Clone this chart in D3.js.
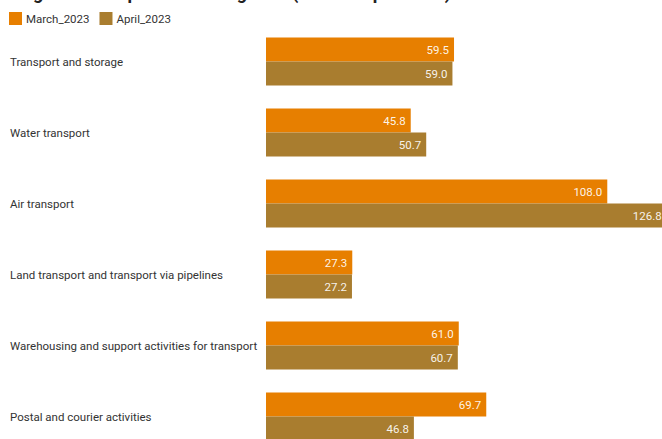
<!DOCTYPE html>
<html>
<head>
<meta charset="utf-8">
<script src="https://cdn.jsdelivr.net/npm/d3@7"></script>
<style>
  html, body { margin: 0; padding: 0; background: #fff; overflow: hidden; }
  svg { display: block; font-family: Roboto, "Noto Sans", sans-serif; }
</style>
</head>
<body>
<div id="chart"></div>
<script>
const title = "Wages in transport sub-categories (March–April 2023)";
const categories = [
  "Transport and storage",
  "Water transport",
  "Air transport",
  "Land transport and transport via pipelines",
  "Warehousing and support activities for transport",
  "Postal and courier activities"
];
const seriesNames = ["March_2023", "April_2023"];
const march2023 = [59.5, 45.8, 108.0, 27.3, 61.0, 69.7];
const april2023 = [59.0, 50.7, 126.8, 27.2, 60.7, 46.8];
const colors = ["#e77f00", "#a97d2f"];

const W = 662, H = 439;
const seriesValues = [march2023, april2023];
const rows = categories.map((c, i) => ({
  cat: c,
  vals: seriesNames.map((s, j) => ({ series: s, value: seriesValues[j][i], color: colors[j] }))
}));

const svg = d3.select("#chart").append("svg")
  .attr("width", W).attr("height", H);

// Title (mostly above the visible area, as in the reference)
svg.append("text")
  .attr("x", 8).attr("y", -1)
  .attr("font-size", 18).attr("font-weight", 700)
  .attr("fill", "#222")
  .text(title);

// Legend
const legend = svg.append("g").attr("transform", "translate(9,12)");
let lx = 0;
seriesNames.forEach((s, j) => {
  const g = legend.append("g").attr("transform", `translate(${lx},0)`);
  g.append("rect").attr("width", 13).attr("height", 13).attr("fill", colors[j]);
  const t = g.append("text").attr("x", 17).attr("y", 6.5).attr("dy", "0.35em")
    .attr("font-size", 11.5).attr("fill", "#333").text(s);
  lx += 17 + t.node().getComputedTextLength() + 10;
});

// Scales
const x = d3.scaleLinear().domain([0, 130]).range([266, 266 + 130 * 3.16]);
const step = 71, inner = 23;
const y = d3.scaleBand().domain(categories)
  .range([37.5, 37.5 + step * categories.length - inner])
  .paddingInner(inner / step).paddingOuter(0);
const y1 = d3.scaleBand().domain(seriesNames).range([0, y.bandwidth()]);

const groups = svg.append("g").selectAll("g").data(rows).join("g")
  .attr("transform", d => `translate(0,${y(d.cat)})`);

groups.append("text")
  .attr("x", 10).attr("y", y.bandwidth() / 2).attr("dy", "0.35em")
  .attr("font-size", 11.5).attr("fill", "#333")
  .text(d => d.cat);

groups.selectAll("rect").data(d => d.vals).join("rect")
  .attr("x", x(0))
  .attr("y", d => y1(d.series))
  .attr("width", d => x(d.value) - x(0))
  .attr("height", y1.bandwidth())
  .attr("fill", d => d.color);

groups.selectAll("text.val").data(d => d.vals).join("text")
  .attr("class", "val")
  .attr("x", d => x(d.value) - 5)
  .attr("y", d => y1(d.series) + y1.bandwidth() / 2)
  .attr("dy", "0.35em")
  .attr("text-anchor", "end")
  .attr("font-size", 11.5)
  .attr("fill", "#fff")
  .attr("fill-opacity", 0.92)
  .text(d => d3.format(".1f")(d.value));
</script>
</body>
</html>
